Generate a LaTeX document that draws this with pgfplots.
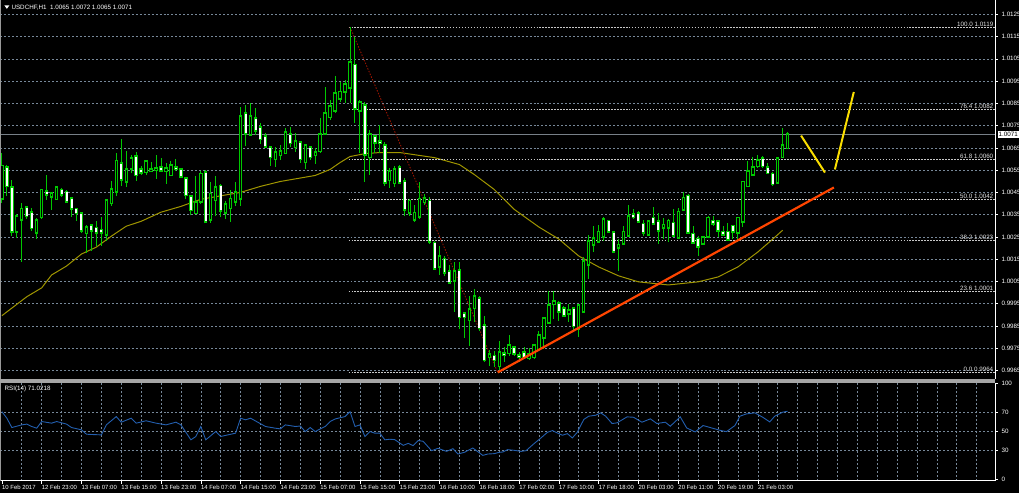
\documentclass[border=0pt]{standalone}
\usepackage{pgfplots}
\pgfplotsset{compat=1.18}
\usepackage{pgfplotstable}
\usepackage{fontspec}
\setmainfont{Liberation Sans}

\definecolor{bull}{RGB}{0,200,0}
\definecolor{gridc}{RGB}{119,136,153}
\definecolor{maline}{RGB}{160,150,0}
\definecolor{rsiblue}{RGB}{35,95,175}
\definecolor{fibc}{RGB}{200,200,200}
\definecolor{fibtext}{RGB}{225,225,225}
\definecolor{trendor}{RGB}{255,69,0}
\definecolor{arrowy}{RGB}{250,222,0}
\definecolor{bidline}{RGB}{120,128,136}
\definecolor{fibred}{RGB}{150,20,0}

% USDCHF H1 candles: bar, open, high, low, close
\pgfplotstableread{
x o h l c
0 1.00426 1.00627 1.00404 1.00568
1 1.00560 1.00575 1.00434 1.00481
2 1.00471 1.00508 1.00255 1.00277
3 1.00277 1.00352 1.00247 1.00341
4 1.00329 1.00404 1.00136 1.00374
5 1.00381 1.00389 1.00329 1.00347
6 1.00359 1.00381 1.00277 1.00292
7 1.00270 1.00337 1.00240 1.00322
8 1.00341 1.00466 1.00332 1.00460
9 1.00451 1.00530 1.00419 1.00441
10 1.00434 1.00448 1.00371 1.00442
11 1.00422 1.00481 1.00416 1.00471
12 1.00460 1.00471 1.00431 1.00441
13 1.00451 1.00460 1.00404 1.00411
14 1.00422 1.00431 1.00341 1.00378
15 1.00374 1.00381 1.00322 1.00359
16 1.00352 1.00359 1.00270 1.00280
17 1.00270 1.00303 1.00180 1.00292
18 1.00299 1.00307 1.00188 1.00282
19 1.00289 1.00322 1.00210 1.00273
20 1.00280 1.00341 1.00210 1.00271
21 1.00262 1.00419 1.00232 1.00411
22 1.00404 1.00501 1.00389 1.00463
23 1.00456 1.00630 1.00434 1.00590
24 1.00580 1.00690 1.00481 1.00511
25 1.00501 1.00635 1.00475 1.00553
26 1.00560 1.00620 1.00538 1.00600
27 1.00609 1.00630 1.00501 1.00530
28 1.00553 1.00568 1.00530 1.00541
29 1.00545 1.00597 1.00530 1.00590
30 1.00550 1.00590 1.00545 1.00553
31 1.00553 1.00620 1.00511 1.00555
32 1.00560 1.00605 1.00545 1.00550
33 1.00550 1.00583 1.00486 1.00556
34 1.00530 1.00593 1.00526 1.00571
35 1.00560 1.00600 1.00545 1.00557
36 1.00553 1.00560 1.00516 1.00523
37 1.00511 1.00516 1.00422 1.00441
38 1.00431 1.00441 1.00352 1.00374
39 1.00359 1.00526 1.00352 1.00404
40 1.00410 1.00544 1.00396 1.00531
41 1.00539 1.00553 1.00312 1.00320
42 1.00329 1.00495 1.00312 1.00441
43 1.00419 1.00522 1.00343 1.00472
44 1.00477 1.00486 1.00338 1.00370
45 1.00361 1.00410 1.00329 1.00396
46 1.00383 1.00463 1.00320 1.00419
47 1.00410 1.00495 1.00388 1.00450
48 1.00423 1.00834 1.00388 1.00790
49 1.00803 1.00843 1.00660 1.00718
50 1.00714 1.00852 1.00709 1.00790
51 1.00781 1.00830 1.00709 1.00732
52 1.00741 1.00763 1.00669 1.00691
53 1.00700 1.00718 1.00651 1.00660
54 1.00651 1.00660 1.00571 1.00611
55 1.00602 1.00656 1.00566 1.00629
56 1.00620 1.00665 1.00597 1.00633
57 1.00629 1.00741 1.00624 1.00718
58 1.00709 1.00745 1.00656 1.00674
59 1.00656 1.00718 1.00633 1.00678
60 1.00674 1.00682 1.00584 1.00602
61 1.00589 1.00669 1.00557 1.00660
62 1.00651 1.00660 1.00597 1.00611
63 1.00620 1.00651 1.00580 1.00629
64 1.00638 1.00785 1.00629 1.00709
65 1.00718 1.00924 1.00709 1.00803
66 1.00790 1.00866 1.00776 1.00834
67 1.00821 1.00973 1.00808 1.00892
68 1.00875 1.00946 1.00857 1.00901
69 1.00906 1.00955 1.00852 1.00933
70 1.00924 1.01193 1.00852 1.01031
71 1.01022 1.01147 1.00763 1.00830
72 1.00821 1.00866 1.00629 1.00852
73 1.00839 1.00857 1.00495 1.00620
74 1.00611 1.00732 1.00531 1.00709
75 1.00700 1.00709 1.00629 1.00678
76 1.00678 1.00754 1.00629 1.00674
77 1.00660 1.00678 1.00477 1.00495
78 1.00508 1.00562 1.00472 1.00544
79 1.00495 1.00571 1.00477 1.00553
80 1.00562 1.00575 1.00486 1.00495
81 1.00499 1.00517 1.00343 1.00374
82 1.00361 1.00419 1.00343 1.00410
83 1.00329 1.00396 1.00320 1.00356
84 1.00343 1.00495 1.00329 1.00419
85 1.00410 1.00441 1.00396 1.00423
86 1.00410 1.00428 1.00218 1.00231
87 1.00222 1.00231 1.00106 1.00110
88 1.00119 1.00209 1.00079 1.00160
89 1.00150 1.00164 1.00075 1.00093
90 1.00093 1.00124 1.00044 1.00048
91 1.00057 1.00137 0.99914 1.00093
92 1.00097 1.00137 0.99838 0.99892
93 0.99905 0.99914 0.99793 0.99892
94 0.99878 0.99985 0.99762 0.99923
95 0.99932 1.00017 0.99869 0.99981
96 0.99972 0.99985 0.99829 0.99842
97 0.99851 0.99896 0.99690 0.99699
98 0.99713 0.99740 0.99672 0.99722
99 0.99713 0.99740 0.99667 0.99699
100 0.99672 0.99784 0.99641 0.99731
101 0.99726 0.99757 0.99690 0.99722
102 0.99731 0.99807 0.99717 0.99762
103 0.99753 0.99762 0.99717 0.99731
104 0.99717 0.99735 0.99690 0.99715
105 0.99731 0.99757 0.99704 0.99713
106 0.99708 0.99749 0.99699 0.99722
107 0.99713 0.99771 0.99704 0.99762
108 0.99749 0.99829 0.99740 0.99807
109 0.99802 0.99892 0.99749 0.99883
110 0.99869 1.00008 0.99865 0.99941
111 0.99950 1.00008 0.99883 0.99959
112 0.99950 0.99963 0.99874 0.99918
113 0.99927 0.99941 0.99892 0.99900
114 0.99909 0.99950 0.99869 0.99918
115 0.99927 0.99936 0.99829 0.99851
116 0.99838 0.99950 0.99802 0.99941
117 0.99918 1.00160 0.99914 1.00137
118 1.00128 1.00262 1.00061 1.00227
119 1.00218 1.00298 1.00182 1.00240
120 1.00231 1.00303 1.00222 1.00271
121 1.00253 1.00338 1.00231 1.00329
122 1.00320 1.00329 1.00271 1.00276
123 1.00271 1.00276 1.00182 1.00186
124 1.00204 1.00240 1.00097 1.00213
125 1.00222 1.00298 1.00218 1.00271
126 1.00258 1.00392 1.00253 1.00343
127 1.00352 1.00374 1.00329 1.00343
128 1.00352 1.00365 1.00316 1.00320
129 1.00307 1.00325 1.00253 1.00271
130 1.00262 1.00329 1.00253 1.00320
131 1.00334 1.00388 1.00307 1.00312
132 1.00320 1.00361 1.00218 1.00280
133 1.00294 1.00338 1.00240 1.00303
134 1.00294 1.00329 1.00227 1.00320
135 1.00312 1.00374 1.00253 1.00258
136 1.00249 1.00383 1.00245 1.00361
137 1.00374 1.00450 1.00365 1.00423
138 1.00432 1.00441 1.00262 1.00271
139 1.00262 1.00298 1.00222 1.00227
140 1.00240 1.00253 1.00164 1.00209
141 1.00222 1.00253 1.00218 1.00245
142 1.00253 1.00343 1.00249 1.00334
143 1.00320 1.00343 1.00298 1.00312
144 1.00320 1.00329 1.00249 1.00280
145 1.00271 1.00298 1.00253 1.00262
146 1.00271 1.00312 1.00236 1.00240
147 1.00298 1.00303 1.00240 1.00276
148 1.00271 1.00338 1.00227 1.00334
149 1.00320 1.00499 1.00294 1.00495
150 1.00481 1.00589 1.00477 1.00544
151 1.00531 1.00611 1.00522 1.00562
152 1.00571 1.00620 1.00562 1.00593
153 1.00602 1.00615 1.00562 1.00571
154 1.00562 1.00584 1.00535 1.00539
155 1.00531 1.00544 1.00481 1.00490
156 1.00495 1.00611 1.00490 1.00602
157 1.00611 1.00741 1.00606 1.00660
158 1.00651 1.00723 1.00647 1.00710
}\candles

\pgfplotsset{
  mtgrid/.style={gridc, dash pattern=on 2pt off 2pt, line width=0.6pt},
  fiblevel/.style={fibc, dash pattern=on 1.5pt off 1.5pt, line width=0.7pt, forget plot},
}
\tikzset{fiblabel/.style={anchor=south east, inner sep=0.6pt, text=fibtext}}

\begin{document}
\begin{tikzpicture}[font=\fontsize{6.3}{7.5}\selectfont]
\fill[black] (0,0) rectangle (1024pt,495pt);

% ---------------- price panel ----------------
\begin{axis}[
    at={(0pt,114pt)}, anchor=south west,
    scale only axis, width=1000pt, height=381pt,
    xmin=-0.3, xmax=199.7,
    ymin=0.996099, ymax=1.013126,
    clip mode=individual,
    axis line style={draw=none},
    xtick=\empty,
    minor xtick={4,8,...,196},
    xminorgrids=true, minor grid style={mtgrid},
    minor tick length=0pt,
    ytick={0.9965,0.9975,0.9985,0.9995,1.0005,1.0015,1.0025,1.0035,1.0045,1.0055,1.0065,1.0075,1.0085,1.0095,1.0105,1.0115,1.0125},
    ymajorgrids=true, major grid style={mtgrid},
    ytick pos=right, yticklabel pos=right,
    tick align=outside, major tick length=3pt,
    tick style={white, line width=0.6pt},
    scaled y ticks=false,
    yticklabel style={text=white, font=\fontsize{6.3}{7.5}\selectfont,
      /pgf/number format/.cd, fixed, fixed zerofill, precision=4},
    /pgf/number format/assume math mode=true,
]
% moving average
\addplot[maline, line width=1pt, forget plot] coordinates {
(0,0.99896)(5,0.99981)(8,1.00021)(10,1.00079)(13,1.00119)(16,1.00173)(19,1.00204)
(22,1.00253)(25,1.00298)(28,1.00320)(32,1.00361)(36,1.00387)(40,1.00419)(48,1.00450)
(52,1.00477)(56,1.00499)(63,1.00526)(66,1.00553)(68,1.00584)(70,1.00611)(73,1.00624)
(76,1.00629)(80,1.00629)(87,1.00606)(92,1.00575)(95,1.00530)(99,1.00463)(103,1.00374)
(108,1.00294)(112,1.00240)(116,1.00164)(120,1.00115)(124,1.00075)(128,1.00048)
(134,1.00034)(140,1.00048)(144,1.00070)(148,1.00115)(152,1.00182)(155,1.00240)(157,1.00280)};

% current price line
\addplot[bidline, line width=0.9pt, forget plot] coordinates {(-0.3,1.0071)(199.7,1.0071)};

% fibonacci levels
\addplot[fiblevel] coordinates {(69.7,1.01193)(199.7,1.01193)};
\addplot[fiblevel] coordinates {(69.7,1.00824)(199.7,1.00824)};
\addplot[fiblevel] coordinates {(69.7,1.00598)(199.7,1.00598)};
\addplot[fiblevel] coordinates {(69.7,1.00417)(199.7,1.00417)};
\addplot[fiblevel] coordinates {(69.7,1.00234)(199.7,1.00234)};
\addplot[fiblevel] coordinates {(69.7,1.00007)(199.7,1.00007)};
\addplot[fiblevel] coordinates {(69.7,0.99641)(199.7,0.99641)};
\addplot[fibred, dash pattern=on 1.5pt off 1.5pt, line width=0.9pt, forget plot]
  coordinates {(70,1.01193)(99.7,0.99641)};

% candle wicks
\addplot[draw=none, mark=none, forget plot,
  error bars/.cd, y dir=both, y explicit, error mark=none,
  error bar style={draw=bull, line width=1pt}]
  table[x=x, y expr={(\thisrow{h}+\thisrow{l})/2},
        y error expr={(\thisrow{h}-\thisrow{l})/2}] {\candles};
% candle body outlines
\addplot[draw=none, mark=none, forget plot,
  error bars/.cd, y dir=both, y explicit, error mark=none,
  error bar style={draw=bull, line width=3.4pt, line cap=rect}]
  table[x=x, y expr={(\thisrow{o}+\thisrow{c})/2},
        y error expr={abs(\thisrow{o}-\thisrow{c})/2}] {\candles};
% bullish bodies: black inside
\addplot[draw=none, mark=none, forget plot,
  error bars/.cd, y dir=both, y explicit, error mark=none,
  error bar style={draw=black, line width=1.4pt, line cap=butt}]
  table[x=x, y expr={(\thisrow{o}+\thisrow{c})/2},
        y error expr={\thisrow{c}>\thisrow{o} ? (\thisrow{c}-\thisrow{o})/2 : 0}] {\candles};
% bearish bodies: white inside
\addplot[draw=none, mark=none, forget plot,
  error bars/.cd, y dir=both, y explicit, error mark=none,
  error bar style={draw=white, line width=2pt, line cap=butt}]
  table[x=x, y expr={(\thisrow{o}+\thisrow{c})/2},
        y error expr={\thisrow{c}<\thisrow{o} ? (\thisrow{o}-\thisrow{c})/2 : 0}] {\candles};

% trend line and arrows
\addplot[trendor, line width=2.2pt, forget plot] coordinates {(99.7,0.99641)(167.3,1.00472)};
\addplot[arrowy, line width=2pt, forget plot] coordinates {(160.7,1.00705)(165.5,1.00539)};
\addplot[arrowy, line width=2pt, forget plot] coordinates {(167.5,1.00553)(171.3,1.00901)};

% fibonacci labels
\node[fiblabel] at (axis cs:199.5,1.01193) {100.0 1.0119};
\node[fiblabel] at (axis cs:199.5,1.00824) {76.4 1.0082};
\node[fiblabel] at (axis cs:199.5,1.00598) {61.8 1.0060};
\node[fiblabel] at (axis cs:199.5,1.00417) {50.0 1.0042};
\node[fiblabel] at (axis cs:199.5,1.00234) {38.2 1.0023};
\node[fiblabel] at (axis cs:199.5,1.00007) {23.6 1.0001};
\node[fiblabel] at (axis cs:199.5,0.99641) {0.0 0.9964};

% price box
\node[fill=white, text=black, inner sep=0.9pt, anchor=west] at (axis cs:200.2,1.0071) {1.0071};

% frame
\draw[gray!80, line width=0.8pt] (rel axis cs:0,0) -- (rel axis cs:0,1);
\draw[white, line width=0.8pt] (rel axis cs:1,0) -- (rel axis cs:1,1);
\end{axis}

% panel separator
\fill[gray!70] (0pt,110.5pt) rectangle (1000pt,114pt);

% ---------------- RSI panel ----------------
\begin{axis}[
    at={(0pt,12pt)}, anchor=south west,
    scale only axis, width=1000pt, height=98pt,
    xmin=-0.3, xmax=199.7,
    ymin=-2, ymax=100.3,
    clip mode=individual,
    axis line style={draw=none},
    xtick={0,8,...,152},
    xticklabels={10 Feb 2017, 12 Feb 23:00, 13 Feb 07:00, 13 Feb 15:00, 13 Feb 23:00,
      14 Feb 07:00, 14 Feb 15:00, 14 Feb 23:00, 15 Feb 07:00, 15 Feb 15:00,
      15 Feb 23:00, 16 Feb 10:00, 16 Feb 18:00, 17 Feb 02:00, 17 Feb 10:00,
      17 Feb 18:00, 20 Feb 03:00, 20 Feb 11:00, 20 Feb 19:00, 21 Feb 03:00},
    xtick pos=bottom,
    xticklabel style={anchor=north west, text=white, inner sep=1pt, xshift=-1pt,
      font=\fontsize{6}{7}\selectfont},
    minor xtick={4,8,...,196},
    xminorgrids=true, minor grid style={mtgrid},
    minor tick length=0pt,
    ytick={30,50,70},
    ymajorgrids=true, major grid style={mtgrid},
    extra y ticks={0,100},
    extra y tick style={grid=none},
    ytick pos=right, yticklabel pos=right,
    tick align=outside, major tick length=3pt,
    tick style={white, line width=0.6pt},
    yticklabel style={text=white, font=\fontsize{6.3}{7.5}\selectfont},
    /pgf/number format/assume math mode=true,
]
\addplot[rsiblue, line width=0.9pt] coordinates {
(0,70.6)(1,63.7)(2,53.9)(4,56.7)(5,57.5)(6,55)(7,53.2)(8,60.2)(10,58.5)(11,60.2)
(13,57.5)(14,53.9)(16,51.5)(17,46.9)(18,46.6)(20,46.2)(21,56.7)(23,65.4)(24,59.5)
(26,63.7)(27,58.5)(29,61)(31,58.5)(33,56.7)(35,59.5)(36,56.7)(38,41.0)(39,44.5)
(40,55)(41,41)(43,49.7)(44,44.5)(47,48)(48,63.7)(49,62)(50,63.7)(53,55)(55,53.2)
(56,52.5)(57,56.7)(59,55)(60,55.5)(61,49.7)(62,53.9)(63,49.7)(65,55)(66,60.2)
(67,62.9)(69,65.4)(70,70.6)(71,55)(72,56.7)(73,44.5)(74,49.7)(75,48)(76,48)(77,41)
(78,41.6)(79,41.2)(80.7,35.2)(81.7,37.3)(82.7,34.9)(83.7,40.2)(84.7,39.5)(86.4,29.6)
(87.7,32.1)(89.4,28.9)(90.7,31.7)(91.7,26.1)(93,27.9)(94.7,32.4)(96.7,24.7)(97.7,26.1)
(99,26.5)(100,27.9)(100.7,28.2)(101.7,30.7)(103,30)(104.4,28.9)(105.4,29.6)(107,37)
(108.4,43)(109.7,48.9)(110.7,50.7)(111.7,48.2)(112.7,45.8)(113.7,47.5)(114.7,43)
(115.7,48.9)(117,62.3)(118,65.8)(119.4,66.8)(120.4,69.3)(121.4,65.8)(122.7,58.1)
(123.7,58.8)(125.7,65.1)(127,64.7)(128.7,59.5)(130.4,63)(131.7,58.1)(133.4,59.5)
(134.4,55.3)(136.4,65.1)(137.7,53.5)(139.4,49.3)(141,56)(142.7,53.5)(144.4,51)
(145.7,49.6)(147.4,56)(148.4,65.8)(149.7,68.2)(151.4,69.3)(153,64.7)(154.4,59.8)
(155.4,65.8)(157,70)(158,71)};
\draw[white, line width=0.8pt] (rel axis cs:1,0) -- (rel axis cs:1,1);
\draw[white, line width=0.8pt] (rel axis cs:0,0) -- (rel axis cs:1,0);
\draw[gray!80, line width=0.8pt] (rel axis cs:0,0) -- (rel axis cs:0,1);
\end{axis}

% header texts
\fill[white] (4pt,490pt) -- (9pt,490pt) -- (6.5pt,486.5pt) -- cycle;
\node[anchor=west, text=white, inner sep=0pt] at (11pt,488pt) {USDCHF,H1\ \ 1.0065 1.0072 1.0065 1.0071};
\node[anchor=west, text=white, inner sep=0pt] at (4pt,104pt) {RSI(14) 71.0218};
\end{tikzpicture}
\end{document}
